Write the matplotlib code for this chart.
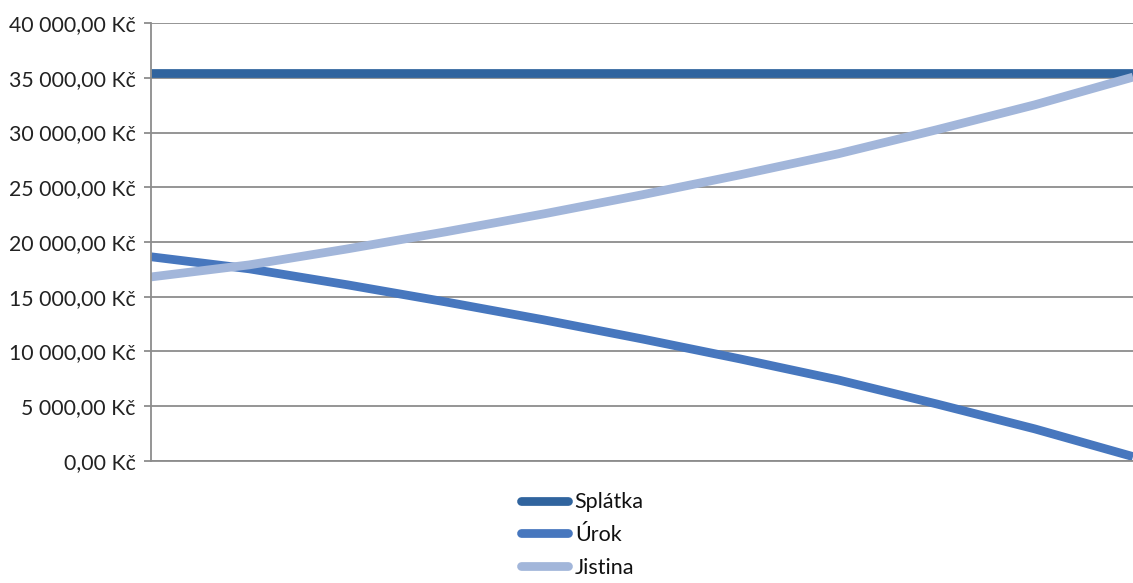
import matplotlib.pyplot as plt
from matplotlib.ticker import FuncFormatter, MultipleLocator

plt.rcParams['font.family'] = ['Lato', 'DejaVu Sans']

# splátkový kalendář - hodnoty v Kč
obdobi = list(range(11))
splatka = [35460] * 11
urok = [18650, 17550, 16090, 14530, 12890, 11150, 9320, 7400, 5210, 2930, 400]
jistina = [16810, 17910, 19370, 20930, 22570, 24310, 26140, 28060, 30250, 32530, 35060]

def kc(v, pos):
    return f"{v:,.2f}".replace(",", " ").replace(".", ",") + " Kč"

fig = plt.figure(figsize=(11.33, 5.83), dpi=100)
ax = fig.add_axes([0.1333, 0.2093, 0.8667, 0.7512])

lw = 6.3
ax.plot(obdobi, splatka, color='#30649E', lw=lw, solid_capstyle='butt', label='Splátka')
ax.plot(obdobi, urok, color='#4777BE', lw=lw, solid_capstyle='butt', label='Úrok')
ax.plot(obdobi, jistina, color='#A2B6DA', lw=lw, solid_capstyle='butt', label='Jistina')

ax.set_xlim(0, 10)
ax.set_ylim(0, 40000)
ax.yaxis.set_major_locator(MultipleLocator(5000))
ax.yaxis.set_major_formatter(FuncFormatter(kc))
ax.set_xticks([])
ax.grid(axis='y', color='#8C8C8C', lw=1.3)
ax.set_axisbelow(True)
for s in ['top', 'right']:
    ax.spines[s].set_visible(False)
for s in ['left', 'bottom']:
    ax.spines[s].set_color('#8C8C8C')
    ax.spines[s].set_linewidth(1.3)
ax.tick_params(axis='y', length=5, width=1.3, color='#8C8C8C', labelsize=15.3,
               labelcolor='#222222', pad=6)

leg = fig.legend(loc='upper center', bbox_to_anchor=(0.514, 0.156), ncol=1,
                 frameon=False, fontsize=15.5, handlelength=2.2, handletextpad=0.3,
                 labelspacing=0.6, borderaxespad=0, borderpad=0)
for h in leg.get_lines():
    h.set_solid_capstyle('round')
    h.set_linewidth(lw)
for t in leg.get_texts():
    t.set_color('#111111')

fig.savefig('out.png', dpi=100)
